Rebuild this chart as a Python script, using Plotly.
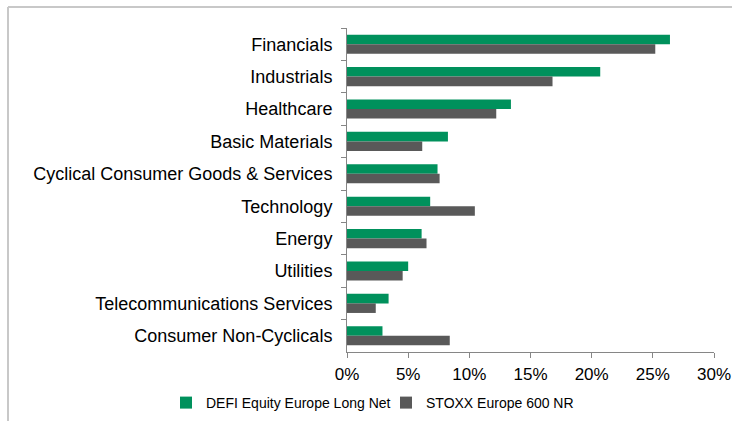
import plotly.graph_objects as go

categories = ["Financials", "Industrials", "Healthcare", "Basic Materials",
              "Cyclical Consumer Goods & Services", "Technology", "Energy",
              "Utilities", "Telecommunications Services", "Consumer Non-Cyclicals"]
defi_values = [26.4, 20.7, 13.4, 8.25, 7.4, 6.8, 6.1, 5.0, 3.4, 2.9]
stoxx_values = [25.2, 16.8, 12.2, 6.15, 7.57, 10.45, 6.5, 4.55, 2.35, 8.4]
x_ticks = [0, 5, 10, 15, 20, 25, 30]
x_tick_labels = [f"{v}%" for v in x_ticks]

FONT = "Liberation Sans, Arial, sans-serif"
AXIS = "#868686"

fig = go.Figure()
fig.add_trace(go.Bar(y=categories, x=defi_values, orientation="h",
                     name="DEFI Equity Europe Long Net",
                     marker=dict(color="#00915C", line=dict(width=0))))
fig.add_trace(go.Bar(y=categories, x=stoxx_values, orientation="h",
                     name="STOXX Europe 600 NR",
                     marker=dict(color="#595959", line=dict(width=0))))

W, H = 732, 421
L, R, T, B = 347, 714, 28, 352

def px_x(p):
    return (p - L) / (R - L)

def px_y(p):
    return (B - p) / (B - T)

fig.update_layout(
    width=W, height=H,
    margin=dict(l=L, r=W - R, t=T, b=H - B, pad=0, autoexpand=False),
    paper_bgcolor="white", plot_bgcolor="white",
    barmode="group", bargap=0.41, bargroupgap=0,
    font=dict(family=FONT, size=17, color="#000000"),
    showlegend=True,
    legend=dict(orientation="h", x=px_x(166), xanchor="left",
                y=px_y(403), yanchor="middle",
                font=dict(family=FONT, size=14, color="#000000"),
                itemwidth=30, traceorder="normal", tracegroupgap=0,
                entrywidth=175, entrywidthmode="pixels",
                bgcolor="rgba(0,0,0,0)"),
    xaxis=dict(range=[0, 30], tickvals=x_ticks, ticktext=x_tick_labels,
               showgrid=False, zeroline=False, showline=True, linecolor=AXIS,
               linewidth=1, ticks="outside", ticklen=5, tickcolor=AXIS,
               automargin=False, ticklabeloverflow="allow",
               ticklabelstandoff=2,
               tickfont=dict(family=FONT, size=17, color="#000000")),
    yaxis=dict(autorange="reversed", showgrid=False, zeroline=False,
               showline=True, linecolor=AXIS, linewidth=1,
               ticks="outside", ticklen=5, tickcolor=AXIS, tickson="boundaries",
               ticklabelstandoff=10, automargin=False,
               tickfont=dict(family=FONT, size=18, color="#000000")),
    shapes=[
        dict(type="line", xref="paper", yref="paper",
             x0=px_x(8), x1=px_x(740), y0=px_y(7), y1=px_y(7),
             line=dict(color="#C8C8C8", width=2)),
        dict(type="line", xref="paper", yref="paper",
             x0=px_x(8), x1=px_x(8), y0=px_y(7), y1=px_y(425),
             line=dict(color="#C8C8C8", width=2)),
    ],
)

fig.write_html("out.html", config={"displayModeBar": False},
               post_script="document.body.style.margin='0';document.body.style.overflow='hidden';")
